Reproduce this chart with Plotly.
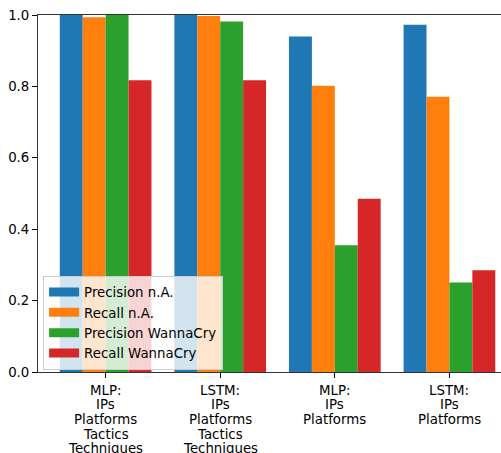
import plotly.graph_objects as go

# Model / feature-set configurations shown on the x axis (one entry per text line)
configs = [
    ["MLP:", "IPs", "Platforms", "Tactics", "Techniques"],
    ["LSTM:", "IPs", "Platforms", "Tactics", "Techniques"],
    ["MLP:", "IPs", "Platforms"],
    ["LSTM:", "IPs", "Platforms"],
]
positions = [0, 1, 2, 3]

# Scores per configuration
precision_na = [1.000, 1.000, 0.940, 0.973]
recall_na = [0.994, 0.997, 0.802, 0.771]
precision_wannacry = [1.000, 0.982, 0.355, 0.251]
recall_wannacry = [0.817, 0.817, 0.485, 0.285]

series = [
    ("Precision n.A.", precision_na, "#1f77b4"),
    ("Recall n.A.", recall_na, "#ff7f0e"),
    ("Precision WannaCry", precision_wannacry, "#2ca02c"),
    ("Recall WannaCry", recall_wannacry, "#d62728"),
]

font = dict(family="DejaVu Sans", size=13.33, color="black")

fig = go.Figure()
for name, vals, color in series:
    fig.add_trace(go.Bar(
        x=positions, y=vals, name=name, showlegend=False,
        marker=dict(color=color, line=dict(width=0)),
    ))
# Legend entries drawn as thick line keys so the swatches are wide patches
for name, vals, color in series:
    fig.add_trace(go.Scatter(
        x=[None], y=[None], name=name, mode="lines",
        line=dict(color=color, width=9),
    ))

# Multi-line category labels under each tick
line_step = 14.7
for pos, lines in zip(positions, configs):
    for i, txt in enumerate(lines):
        fig.add_annotation(
            x=pos, xref="x", y=0, yref="paper",
            text=txt, showarrow=False, font=font,
            xanchor="center", yanchor="middle",
            yshift=-(18 + line_step * i),
        )

fig.update_layout(
    width=501, height=453,
    margin=dict(l=38, r=0, t=15, b=81, pad=0),
    paper_bgcolor="white", plot_bgcolor="white",
    barmode="group", bargap=0.2, bargroupgap=0,
    font=font,
    showlegend=True,
    legend=dict(
        x=0.011, y=0.006, xanchor="left", yanchor="bottom",
        bgcolor="rgba(255,255,255,0.8)",
        bordercolor="#cccccc", borderwidth=1,
        font=font, itemwidth=30, tracegroupgap=0,
    ),
    xaxis=dict(
        range=[-0.59, 3.45], automargin=False,
        tickmode="array", tickvals=positions, showticklabels=False,
        ticks="outside", ticklen=5, tickwidth=1, tickcolor="black",
        showline=True, linecolor="#333333", linewidth=1, mirror=True,
        showgrid=False, zeroline=False,
    ),
    yaxis=dict(
        range=[0, 1], automargin=False,
        tickmode="array", tickvals=[0, 0.2, 0.4, 0.6, 0.8, 1.0],
        tickformat=".1f",
        ticks="outside", ticklen=5, tickwidth=1, tickcolor="black",
        showline=True, linecolor="#333333", linewidth=1, mirror=False,
        showgrid=False, zeroline=False, tickfont=font,
    ),
)

fig.write_html("out.html")
